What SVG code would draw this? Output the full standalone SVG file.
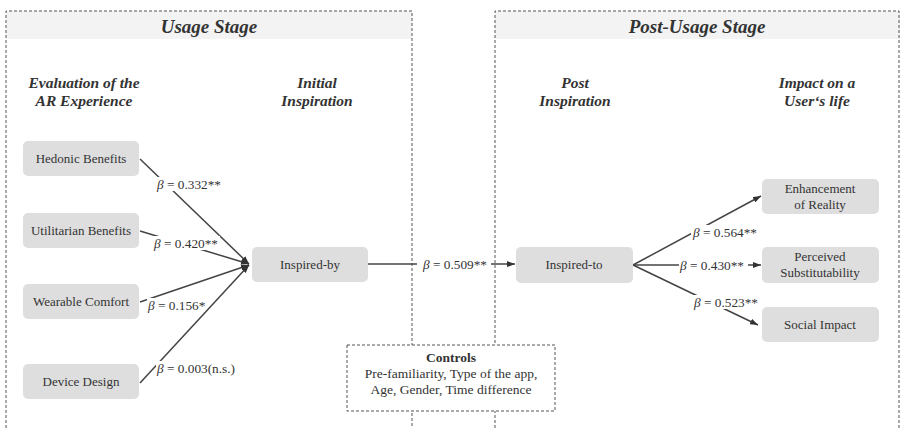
<svg xmlns="http://www.w3.org/2000/svg" width="900" height="428" viewBox="0 0 900 428">
<style>
text{font-family:'Liberation Serif','Times New Roman',Times,serif}
.panel{fill:none;stroke:#555;stroke-width:1;stroke-dasharray:3 2}
.band{fill:#f2f3f2}
.head{font-style:italic;font-weight:bold;font-size:19px;fill:#333;text-anchor:middle}
.col{font-style:italic;font-weight:bold;font-size:15.5px;fill:#333;text-anchor:middle}
.node rect{fill:#dedede;stroke:none}
.node text{font-size:13px;fill:#333;text-anchor:middle}
.edge{stroke:#444;stroke-width:1.5;fill:none}
.lbl{font-size:13.3px;fill:#333}
.lblbg{fill:#fff}
.ctl{font-size:13.5px;fill:#333;text-anchor:middle}
</style>
<defs>
<marker id="arr" markerWidth="8" markerHeight="6" refX="8" refY="3" orient="auto" markerUnits="userSpaceOnUse">
<path d="M0,0 L8,3 L0,6 z" fill="#333"/>
</marker>
</defs>
<rect width="900" height="428" fill="#fff"/>

<g id="usage-stage">
<rect class="band" x="6" y="11" width="406" height="28"/>
<path class="panel" d="M6,428 V11 H412 V428"/>
<text class="head" x="209" y="33">Usage Stage</text>
<text class="col" x="84" y="88">Evaluation of the</text>
<text class="col" x="84" y="106">AR Experience</text>
<text class="col" x="317" y="88">Initial</text>
<text class="col" x="317" y="106">Inspiration</text>
</g>

<g id="post-usage-stage">
<rect class="band" x="495" y="11" width="405" height="28"/>
<path class="panel" d="M495,428 V11 H899 V428"/>
<text class="head" x="697" y="33">Post-Usage Stage</text>
<text class="col" x="575" y="88">Post</text>
<text class="col" x="575" y="106">Inspiration</text>
<text class="col" x="817" y="88">Impact on a</text>
<text class="col" x="817" y="106">User‘s life</text>
</g>

<g id="connectors">
<line class="edge" x1="140" y1="159" x2="249" y2="264" marker-end="url(#arr)"/>
<line class="edge" x1="140" y1="231" x2="249" y2="264" marker-end="url(#arr)"/>
<line class="edge" x1="140" y1="302" x2="249" y2="265" marker-end="url(#arr)"/>
<line class="edge" x1="140" y1="383" x2="249" y2="265" marker-end="url(#arr)"/>
<line class="edge" x1="368" y1="264" x2="515" y2="264" marker-end="url(#arr)"/>
<line class="edge" x1="633" y1="265" x2="761" y2="196" marker-end="url(#arr)"/>
<line class="edge" x1="633" y1="265" x2="761" y2="265" marker-end="url(#arr)"/>
<line class="edge" x1="633" y1="265" x2="758" y2="325" marker-end="url(#arr)"/>

<rect class="lblbg" x="155" y="177" width="70" height="14"/>
<text class="lbl" x="157" y="189"><tspan font-style="italic">β</tspan> = 0.332**</text>
<rect class="lblbg" x="152" y="236" width="68" height="14"/>
<text class="lbl" x="154" y="248"><tspan font-style="italic">β</tspan> = 0.420**</text>
<rect class="lblbg" x="147" y="298" width="58" height="14"/>
<text class="lbl" x="148" y="310"><tspan font-style="italic">β</tspan> = 0.156*</text>
<rect class="lblbg" x="156" y="361" width="84" height="14"/>
<text class="lbl" x="157" y="373"><tspan font-style="italic">β</tspan> = 0.003(n.s.)</text>
<rect class="lblbg" x="417" y="257" width="74" height="14"/>
<text class="lbl" x="423" y="269"><tspan font-style="italic">β</tspan> = 0.509**</text>
<rect class="lblbg" x="691" y="225" width="65" height="14"/>
<text class="lbl" x="693" y="237"><tspan font-style="italic">β</tspan> = 0.564**</text>
<rect class="lblbg" x="679" y="258" width="69" height="14"/>
<text class="lbl" x="680" y="270"><tspan font-style="italic">β</tspan> = 0.430**</text>
<rect class="lblbg" x="692" y="295" width="65" height="14"/>
<text class="lbl" x="694" y="307"><tspan font-style="italic">β</tspan> = 0.523**</text>
</g>

<g id="hedonic" class="node"><rect x="23" y="141" width="116" height="35" rx="5"/><text x="81" y="163">Hedonic Benefits</text></g>
<g id="utilitarian" class="node"><rect x="23" y="213" width="116" height="35" rx="5"/><text x="81" y="235">Utilitarian Benefits</text></g>
<g id="wearable" class="node"><rect x="23" y="284" width="116" height="35" rx="5"/><text x="81" y="306">Wearable Comfort</text></g>
<g id="device" class="node"><rect x="23" y="364" width="116" height="35" rx="5"/><text x="81" y="386">Device Design</text></g>
<g id="inspired-by" class="node"><rect x="252" y="247" width="116" height="35" rx="5"/><text x="310" y="269">Inspired-by</text></g>
<g id="inspired-to" class="node"><rect x="516" y="247" width="117" height="36" rx="5"/><text x="574" y="269">Inspired-to</text></g>
<g id="enhancement" class="node"><rect x="762" y="179" width="117" height="35" rx="5"/><text x="820" y="193">Enhancement</text><text x="820" y="209">of Reality</text></g>
<g id="substitutability" class="node"><rect x="762" y="247" width="117" height="36" rx="5"/><text x="820" y="261">Perceived</text><text x="820" y="277">Substitutability</text></g>
<g id="social" class="node"><rect x="762" y="307" width="117" height="35" rx="5"/><text x="820" y="329">Social Impact</text></g>

<g id="controls">
<rect x="347" y="345" width="208" height="66" fill="#fff" stroke="#555" stroke-width="1" stroke-dasharray="3 2"/>
<text class="ctl" x="451" y="362" font-weight="bold" font-size="15">Controls</text>
<text class="ctl" x="451" y="378">Pre-familiarity, Type of the app,</text>
<text class="ctl" x="451" y="394">Age, Gender, Time difference</text>
</g>
</svg>
